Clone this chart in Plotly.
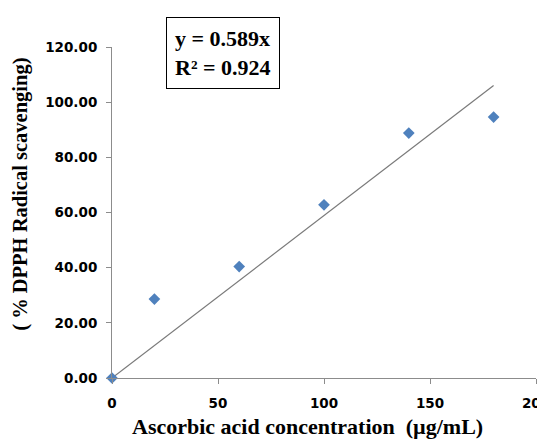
import plotly.graph_objects as go

conc = [0, 20, 60, 100, 140, 180]
scavenging = [0, 28.6, 40.4, 62.8, 88.8, 94.6]
slope = 0.589
r2 = 0.924
trend_x = [0, 180]
trend_y = [slope * v for v in trend_x]
x_ticks = [0, 50, 100, 150, 200]
y_ticks = [0, 20, 40, 60, 80, 100, 120]

fig = go.Figure()
fig.add_trace(go.Scatter(x=trend_x, y=trend_y, mode="lines",
                         line=dict(color="#7a7a7a", width=1.2),
                         showlegend=False, hoverinfo="skip"))
fig.add_trace(go.Scatter(x=conc, y=scavenging, mode="markers",
                         marker=dict(symbol="diamond", size=9, color="#4F81BD"),
                         showlegend=False, cliponaxis=False))

tickfont = dict(family="DejaVu Sans", size=13.5, color="black", weight="bold")
fig.update_layout(
    width=537, height=437,
    margin=dict(l=104, r=9, t=39, b=67),
    paper_bgcolor="white", plot_bgcolor="white",
    xaxis=dict(range=[0, 200], tickvals=x_ticks, ticktext=[str(v) for v in x_ticks],
               showgrid=False, zeroline=False, showline=True, linecolor="#8c8c8c",
               linewidth=1, ticks="outside", ticklen=5, tickcolor="#8c8c8c",
               tickfont=tickfont, ticklabeloverflow="allow", ticklabelstandoff=8,
               automargin=False),
    yaxis=dict(range=[0, 120], tickvals=y_ticks, ticktext=[f"{v:.2f}" for v in y_ticks],
               showgrid=False, zeroline=False, showline=True, linecolor="#8c8c8c",
               linewidth=1, ticks="outside", ticklen=5, tickcolor="#8c8c8c",
               tickfont=tickfont, ticklabelstandoff=6, automargin=False),
    annotations=[
        dict(text="Ascorbic acid concentration  (µg/mL)", xref="paper", yref="paper",
             x=0.462, y=-0.148, xanchor="center", yanchor="middle", showarrow=False,
             font=dict(family="Liberation Serif", size=22, color="black", weight="bold")),
        dict(text="( % DPPH Radical scavenging)", xref="paper", yref="paper",
             x=-0.215, y=0.556, xanchor="center", yanchor="middle", showarrow=False,
             textangle=-90,
             font=dict(family="Liberation Serif", size=20.5, color="black", weight="bold")),
        dict(text=f"y = {slope}x<br>R² = {r2}", xref="paper", yref="paper",
             x=0.127, y=1.09, xanchor="left", yanchor="top", showarrow=False,
             align="left", bordercolor="black", borderwidth=1, borderpad=8,
             bgcolor="white",
             font=dict(family="Liberation Serif", size=22, color="black", weight="bold")),
    ],
)
fig.write_html("out.html")
